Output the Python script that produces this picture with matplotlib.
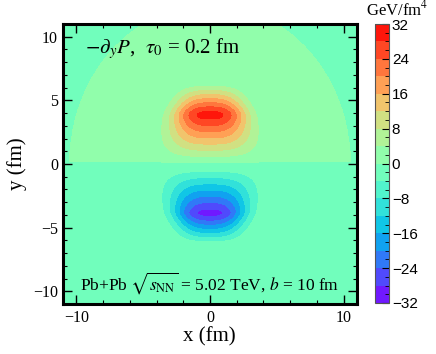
import numpy as np
import matplotlib.pyplot as plt
from matplotlib.ticker import MultipleLocator

plt.rcParams['font.family'] = ['Liberation Serif', 'DejaVu Serif']
plt.rcParams['mathtext.fontset'] = 'stix'

# axis ranges and contour bins (GeV/fm^4)
x_range = [-11, 11]
y_range = [-11, 11]
levels = [-32, -28, -24, -20, -16, -12, -8, -4, 0, 4, 8, 12, 16, 20, 24, 28, 32]
cbar_ticks = [-32, -24, -16, -8, 0, 8, 16, 24, 32]
x_ticks = [-10, 0, 10]
y_ticks = [-10, -5, 0, 5, 10]

# shape of the gradient lobe (upper lobe, lower one is mirrored)
rise = [8.2, 0.1]         # slope, zero crossing below the peak
fall = [12.4, 6.42]       # slope, zero crossing above the peak
corner = 0.36             # softness of the peak
peak_y = 3.9
width = [2.72, 0.25, 0.2]  # x width at the peak, widening per fm below / narrowing above
width_power = 2.9
# half axes of the area where the upper half is just above zero
overlap = [10.5, 12.5]

x = np.linspace(x_range[0], x_range[1], 700)
y = np.linspace(y_range[0], y_range[1], 700)
X, Y = np.meshgrid(x, y)
ay = np.abs(Y)
up = rise[0] * (ay - rise[1])
down = fall[0] * (fall[1] - ay)
g = -np.log(np.exp(-corner * up) + np.exp(-corner * down)) / corner
g = np.maximum(g, 0)
w = np.where(ay < peak_y, width[0] + width[1] * (peak_y - ay),
             width[0] - width[2] * (ay - peak_y))
w = np.maximum(w, 1.0)
field = np.sign(Y) * g * np.exp(-(np.abs(X) / w) ** width_power)
inside = (X / overlap[0]) ** 2 + (Y / overlap[1]) ** 2 < 1
upper = Y > 0.15
field = np.where(upper & inside, np.maximum(field, 0.2),
                 np.where(upper, -0.2, np.minimum(field, -0.2)))

fig = plt.figure(figsize=(4.36, 3.54), dpi=100)
ax = fig.add_axes([63/436, 1 - 304/354, 294/436, 280/354])
cax = fig.add_axes([375/436, 1 - 303/354, 14/436, 279/354])

cs = ax.contourf(X, Y, field, levels=levels, cmap='rainbow')
ax.set_xlim(x_range)
ax.set_ylim(y_range)
ax.set_xticks(x_ticks)
ax.set_yticks(y_ticks)
ax.xaxis.set_minor_locator(MultipleLocator(2))
ax.yaxis.set_minor_locator(MultipleLocator(1))
ax.tick_params(which='both', direction='in', top=True, right=True, labelsize=11.5)
ax.tick_params(which='major', length=6.5, width=1)
ax.tick_params(which='minor', length=3, width=0.8)
ax.tick_params(axis='x', pad=4)
for s in ax.spines.values():
    s.set_linewidth(2.2)

fig.text(209/436, 1 - 337/354, 'x (fm)', ha='center', va='center', fontsize=15)
fig.text(17/436, 1 - 164/354, 'y (fm)', ha='center', va='center', fontsize=15, rotation=90)

ax.text(-9.35, 8.7, r'$-\partial_y P$,  $\tau_0$ = 0.2 fm', fontsize=15, va='baseline')
ax.text(0, -9.9, r'Pb+Pb $\sqrt{s_{\rm NN}}$ = 5.02 TeV, $b$ = 10 fm',
        fontsize=12.5, ha='center', va='baseline')

cb = fig.colorbar(cs, cax=cax, ticks=cbar_ticks)
cb.outline.set_linewidth(0.8)
cb.outline.set_edgecolor('#555555')
cax.yaxis.set_minor_locator(MultipleLocator(2))
cax.tick_params(which='both', direction='in', right=True, left=False, labelsize=11, pad=2)
cax.tick_params(which='major', length=5, width=0.8)
cax.tick_params(which='minor', length=3, width=0.6)
for lab in cax.get_yticklabels():
    lab.set_family(['Liberation Sans', 'DejaVu Sans'])
fig.text(397/436, 1 - 15/354, r'GeV/fm$^4$', ha='center', va='baseline', fontsize=12)

fig.savefig('out.png', dpi=100)
